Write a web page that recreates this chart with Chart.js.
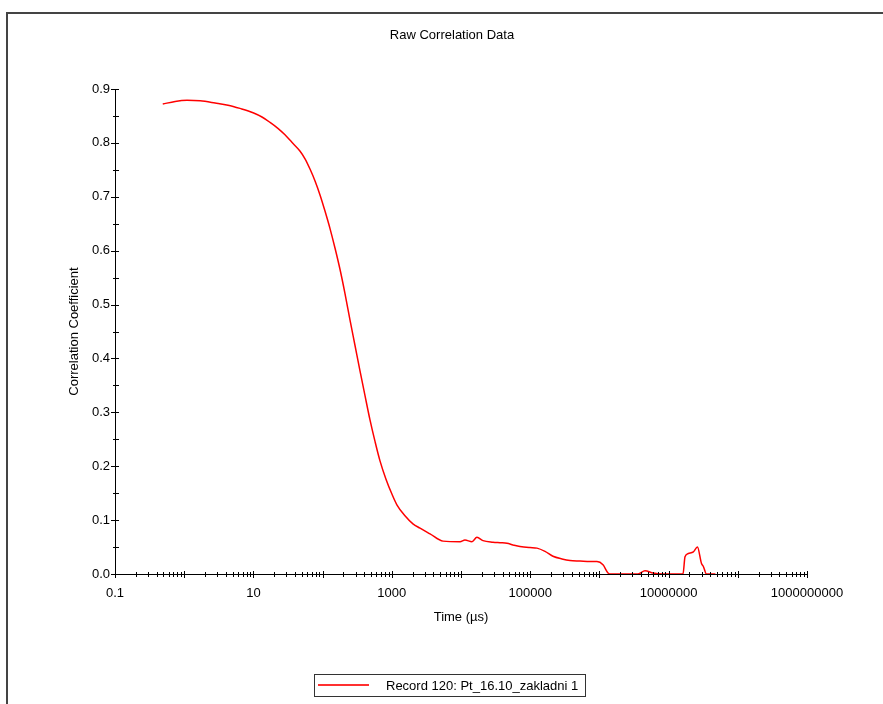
<!DOCTYPE html>
<html>
<head>
<meta charset="utf-8">
<script src="https://cdn.jsdelivr.net/npm/chart.js@4.4.1/dist/chart.umd.min.js"></script>
<style>
  body { margin: 0; background: #fff; font-family: "Liberation Sans", Arial, sans-serif; }
  #wrap { position: relative; width: 883px; height: 704px; overflow: hidden; }
  #frame { position: absolute; left: 6px; top: 12px; width: 1000px; height: 1000px;
           border-top: 2px solid #444; border-left: 2px solid #444; }
  canvas { position: absolute; left: 0; top: 0; }
  #legend { position: absolute; left: 314px; top: 674px; width: 270px; height: 21px;
            border: 1px solid #333; font-size: 13px; line-height: 21px; color: #000; white-space: nowrap; }
  #legend .swatch { position: absolute; left: 3px; top: 9px; width: 51px; height: 2px;
                    background: #ff3030; display: block; }
  #legend .txt { position: absolute; left: 71px; top: 0; }
</style>
</head>
<body>
<div id="wrap">
  <div id="frame"></div>
  <canvas id="corrChart" width="883" height="704"></canvas>
  <div id="legend"><span class="swatch"></span><span class="txt">Record 120: Pt_16.10_zakladni 1</span></div>
</div>
<script>
// Raw correlation data (time in µs, correlation coefficient)
const timeUs = [
  0.49, 0.74, 1.1, 1.7, 2.8, 4.3, 6.4, 9.9, 13.3, 17.4, 22.6, 28.6, 36, 47, 56, 66, 78, 92,
  108, 128, 151, 178, 211, 249, 294, 347, 410, 484, 572, 675, 824, 1007, 1190, 1550, 2020,
  2560, 3570, 5500, 9700, 11400, 14400, 17000, 20800, 29000, 36600, 46200, 56400, 71300,
  99300, 125300, 163600, 213400, 287700, 375700, 524800, 731000, 922600, 1127000, 1331000,
  1472000, 2340000, 3610000, 4560000, 5960000, 8040000, 16150000, 17260000, 19300000,
  22800000, 26100000, 29800000, 31800000, 35200000, 47400000
];
const corr = [
  0.872, 0.877, 0.879, 0.878, 0.874, 0.870, 0.864, 0.856, 0.848, 0.838, 0.827, 0.815, 0.801,
  0.785, 0.770, 0.751, 0.729, 0.703, 0.674, 0.641, 0.605, 0.566, 0.520, 0.471, 0.424, 0.377,
  0.331, 0.286, 0.246, 0.210, 0.176, 0.148, 0.128, 0.108, 0.093, 0.085, 0.0745, 0.061, 0.060,
  0.063, 0.060, 0.068, 0.062, 0.059, 0.058, 0.057, 0.054, 0.051, 0.049, 0.048, 0.042, 0.033,
  0.028, 0.025, 0.024, 0.023, 0.023, 0.017, 0.002, 0, 0, 0, 0.006, 0.002, 0, 0, 0.032, 0.038,
  0.041, 0.050, 0.020, 0.014, 0, 0
];
const xTickLabels = ['0.1', '10', '1000', '100000', '10000000', '1000000000'];
const xDecades = [-1, 0, 1, 2, 3, 4, 5, 6, 7, 8];

const FONT = { family: '"Liberation Sans", Arial, sans-serif', size: 13 };

// small tick marks crossing the axes, like the original plot
const tickMarks = {
  id: 'tickMarks',
  afterDraw(chart) {
    const ctx = chart.ctx;
    const xs = chart.scales.x, ys = chart.scales.y;
    const area = chart.chartArea;
    ctx.save();
    ctx.strokeStyle = '#000';
    ctx.lineWidth = 1;
    ctx.beginPath();
    xs.ticks.forEach(t => {
      const px = Math.round(xs.getPixelForValue(t.value)) + 0.5;
      const h = t.major ? 3 : 2;
      ctx.moveTo(px, area.bottom - h);
      ctx.lineTo(px, area.bottom + h + 1);
    });
    ys.ticks.forEach(t => {
      const py = Math.round(ys.getPixelForValue(t.value)) + 0.5;
      const major = Math.abs(Math.round(t.value * 10) - t.value * 10) < 1e-6;
      ctx.moveTo(area.left - (major ? 4 : 2), py);
      ctx.lineTo(area.left + 4, py);
    });
    ctx.stroke();
    ctx.restore();
  }
};

new Chart(document.getElementById('corrChart'), {
  type: 'line',
  data: {
    datasets: [{
      label: 'Record 120: Pt_16.10_zakladni 1',
      data: timeUs.map((t, i) => ({ x: t, y: corr[i] })),
      borderColor: '#ff0000',
      borderWidth: 1.5,
      pointRadius: 0,
      cubicInterpolationMode: 'monotone',
      fill: false
    }]
  },
  options: {
    responsive: false,
    animation: false,
    layout: { padding: { left: 21, right: 0, top: 0, bottom: 70 } },
    plugins: {
      legend: { display: false },
      tooltip: { enabled: false },
      title: {
        display: true,
        text: 'Raw Correlation Data',
        color: '#000',
        font: { ...FONT, weight: 'normal' },
        padding: { top: 28, bottom: 45.4 }
      }
    },
    scales: {
      x: {
        type: 'logarithmic',
        min: 0.1,
        max: 1e9,
        afterBuildTicks(scale) {
          const ticks = [];
          xDecades.forEach(d => {
            for (let s = 1; s <= 9; s++) {
              ticks.push({ value: s * Math.pow(10, d), major: s === 1 });
            }
          });
          ticks.push({ value: 1e9, major: true });
          scale.ticks = ticks;
        },
        afterFit(scale) { scale.height = 60; },
        grid: { display: false, drawTicks: false },
        border: { display: true, color: '#000', width: 1 },
        ticks: {
          autoSkip: false,
          maxRotation: 0,
          minRotation: 0,
          padding: 12,
          color: '#000',
          font: FONT,
          callback(value) {
            const lbl = xTickLabels.find(s => Math.abs(Number(s) / value - 1) < 1e-9);
            return lbl || '';
          }
        },
        title: {
          display: true,
          text: 'Time (µs)',
          color: '#000',
          font: FONT,
          padding: { top: 0, bottom: 9 }
        }
      },
      y: {
        min: 0,
        max: 0.9,
        afterFit(scale) { scale.width = 94; },
        grid: { display: false, drawTicks: false },
        border: { display: true, color: '#000', width: 1 },
        ticks: {
          stepSize: 0.05,
          autoSkip: false,
          padding: 5,
          color: '#000',
          font: FONT,
          callback(value) {
            const r = Math.round(value * 100);
            return r % 10 === 0 ? (r / 100).toFixed(1) : '';
          }
        },
        title: {
          display: true,
          text: 'Correlation Coefficient',
          color: '#000',
          font: FONT,
          padding: { top: 46, bottom: 0 }
        }
      },
      spacer: {
        type: 'linear',
        position: 'right',
        display: true,
        afterFit(scale) { scale.width = 76; },
        grid: { display: false, drawTicks: false },
        border: { display: false },
        ticks: { display: false }
      }
    }
  },
  plugins: [tickMarks]
});
</script>
</body>
</html>
